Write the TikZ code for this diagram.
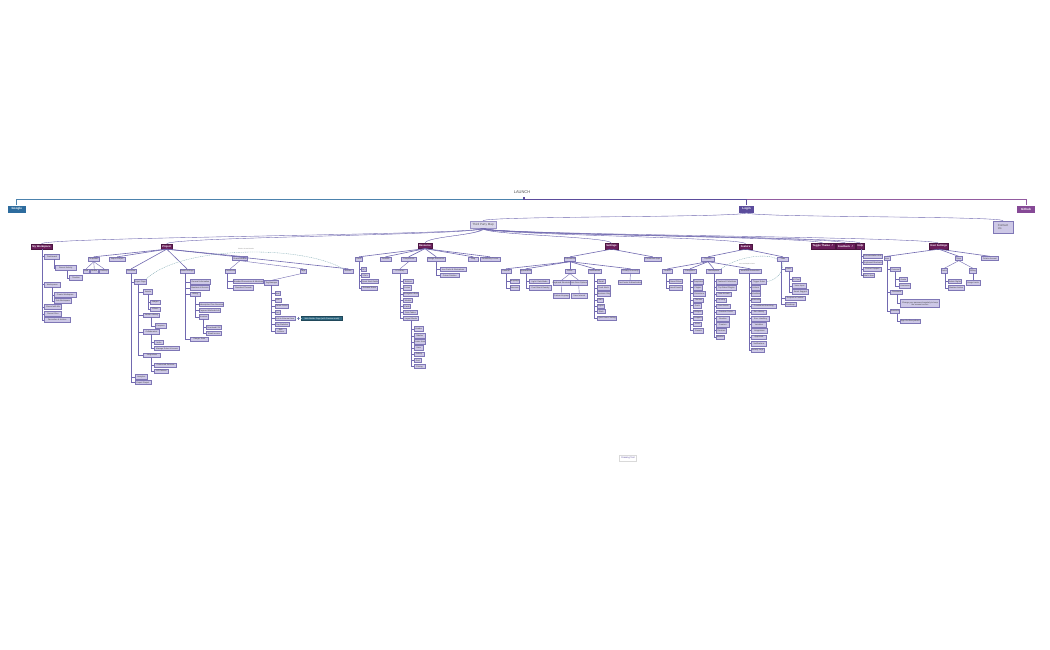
\documentclass[tikz,border=0pt]{standalone}
\usepackage{fontspec}
\setmainfont{Liberation Sans}
\newfontfamily\symf{DejaVu Sans}
\usetikzlibrary{calc}
\definecolor{leaffill}{HTML}{CDC8E6}
\definecolor{leafdraw}{HTML}{7F77B6}
\definecolor{catfill}{HTML}{6B1E5B}
\definecolor{edgec}{HTML}{7169B0}
\definecolor{gblue}{HTML}{2D6C9E}
\definecolor{lpurple}{HTML}{5B4C9C}
\definecolor{ghpurple}{HTML}{864996}
\definecolor{tealbox}{HTML}{2E6780}
\definecolor{dashc}{HTML}{7FA9B3}
\definecolor{tpmfill}{HTML}{D9D6EA}
\tikzset{
  leaf/.style={draw=leafdraw,fill=leaffill,line width=0.35pt,inner sep=0pt,align=center,
    font=\fontsize{2}{2.3}\selectfont,text=black!75},
  cat/.style={draw=catfill!70!black,fill=catfill,line width=0.3pt,inner sep=0pt,text=white,
    font=\fontsize{2.6}{3}\selectfont\bfseries},
  topbtn/.style={inner sep=0pt,text=white,font=\fontsize{3}{3.5}\selectfont\bfseries},
  tl/.style={draw=edgec,line width=0.4pt},
  fl/.style={draw=edgec,line width=0.6pt},
  dl/.style={draw=dashc,line width=0.35pt,dash pattern=on 1pt off 0.8pt},
  tap/.style={fill=edgec,fill opacity=0.6,draw=none},
}
\newcommand\bxx[7][leaf]{%
  \pgfmathsetmacro\bxw{#5-#3}%
  \pgfmathsetmacro\bxh{#6-#4}%
  \pgfmathsetmacro\bxcx{(#3+#5)/2}%
  \pgfmathsetmacro\bxcy{(#4+#6)/2}%
  \node[#1,minimum width=\bxw pt,minimum height=\bxh pt] (#2) at (\bxcx,\bxcy) {#7};%
}
\newcommand\vlist[3]{\foreach \ch in {#3}{\draw[tl] ([xshift=#2pt]#1.south west) |- (\ch.west);}}
\newcommand\fan[2]{\foreach \ch in {#2}{\draw[tl] (#1.south) -- (\ch.north);}}
\newcommand\catfan[2]{\foreach \ch in {#2}{\draw[fl] (#1.south) -- (\ch.north);}}
\newcommand\taper[4]{% from, to, halfwidth, bend
  \fill[tap] ($(#1)+(-#3,0)$) .. controls ($(#1)+(-#3,#4)$) and ($(#2)+(0,-#4)$) .. (#2)
     .. controls ($(#2)+(0,-#4)$) and ($(#1)+(#3,#4)$) .. ($(#1)+(#3,0)$) -- cycle;
  \draw[edgec,line width=0.35pt] (#1) .. controls ($(#1)+(0,#4)$) and ($(#2)+(0,-#4)$) .. (#2);
}
\begin{document}
\begin{tikzpicture}[x=1pt,y=-1pt]
\fill[white] (0,0) rectangle (1050,650);
\useasboundingbox (0,0) rectangle (1050,650);

% ---------- top ----------
\node[font=\fontsize{4}{5}\selectfont,text=black!70,inner sep=0pt] (launch) at (522,192.5) {LAUNCH};
\coordinate (hub) at (524,199.3);
\bxx[topbtn,fill=gblue]{google}{8}{205.5}{25.5}{212.5}{Google}
\bxx[topbtn,fill=lpurple]{login}{739}{205.5}{754}{212.5}{Login}
\bxx[topbtn,fill=ghpurple]{github}{1017}{205.5}{1035}{212.5}{Github}
\draw[gblue!85,line width=1pt] (hub) -| (google.north);
\draw[ghpurple!90,line width=1pt] (hub) -| (github.north);
\draw[lpurple,line width=1pt] (hub) -| (login.north);
\fill[lpurple] (522.8,197.3) rectangle (525.2,200.3);

\bxx[leaf,fill=tpmfill,draw=leafdraw!80,font=\fontsize{3}{3.5}\selectfont,text=black!65]{tpm}{470}{221}{496}{228}{Third Party Map}
\bxx[leaf,align=left,font=\fontsize{3}{3.6}\selectfont,text=black!65]{contact}{993}{221}{1013}{233}{Contact\\Us\phantom{tact}}
\taper{login.south}{tpm.north}{1.2}{5}
\taper{login.south}{contact.north}{1.2}{5}

% ---------- categories ----------
\bxx[cat]{mw}{31}{244}{52}{249}{My Workspace}
\bxx[cat]{pj}{161}{244}{172.5}{249}{Project}
\bxx[cat]{rs}{418}{243.5}{432}{248.5}{Resource}
\bxx[cat]{st}{605}{243.5}{618}{249}{Settings}
\bxx[cat]{ft}{739}{244}{752}{249}{Feature}
\bxx[cat]{tt}{811}{243.5}{835}{249}{Toggle Theme\hspace{1.5pt}{\symf\fontsize{2.4}{3}\selectfont ↗}}
\bxx[cat]{fb}{836.5}{243.5}{855}{249}{Feedback\hspace{1.5pt}{\symf\fontsize{2.4}{3}\selectfont ↗}}
\bxx[cat]{hp}{856.5}{243.5}{864.5}{249}{Help}
\bxx[cat]{us}{929}{243.5}{948.5}{249}{User Settings}
\foreach \cc in {mw,pj,rs,st,ft,tt,fb,hp,us}{\taper{tpm.south}{\cc.north}{1.7}{7}}

% ---------- My Workspace ----------
\bxx{mw1}{44.5}{254}{59.5}{259}{Dashboard}
\bxx{mw1a}{55.5}{265.5}{76}{270.5}{Recent Activity}
\bxx{mw1a1}{69.5}{275.5}{82.5}{280.5}{Timeline}
\bxx{mw2}{44.5}{282}{60}{287}{Workspaces}
\bxx{mw2a}{54.5}{292.5}{76}{297.5}{Create Workspace}
\bxx{mw2b}{54.5}{298.5}{71.5}{303}{Join Workspace}
\bxx{mw3}{44.5}{304.5}{61.5}{309.5}{Shared with Me}
\bxx{mw4}{44.5}{311.5}{61.5}{316}{Recent Files}
\bxx{mw5}{44.5}{317.5}{70}{322}{Favourites \& Archive}
\vlist{mw}{11}{mw1,mw2,mw3,mw4,mw5}
\vlist{mw1}{9.5}{mw1a}
\vlist{mw1a}{11.5}{mw1a1}
\vlist{mw2}{8}{mw2a,mw2b}

% ---------- Project ----------
\bxx{pA}{88.5}{257}{99}{261.5}{Templates}
\bxx{pA1}{83.5}{269}{89}{273}{Web}
\bxx{pA2}{90}{269}{98.5}{273}{Mobile}
\bxx{pA3}{99.5}{269}{108.5}{273}{Desktop}
\bxx{pB}{109.5}{257}{125}{261.5}{Import Project}
\bxx{pC}{126}{269}{136.5}{273}{Overview}
\bxx{pC1}{134.5}{279.5}{145.5}{284}{Project Page}
\bxx{pC1a}{143.5}{289.5}{152.5}{294}{Assets}
\bxx{pC1a1}{150.5}{300}{160}{304.5}{Images}
\bxx{pC1a2}{150.5}{307}{160}{311.5}{Videos}
\bxx{pC1b}{143.5}{313}{159.5}{317}{Version History}
\bxx{pC1b1}{155}{323.5}{166}{328}{Compare}
\bxx{pC1c}{143.5}{329.5}{159.5}{334}{Collaborators}
\bxx{pC1c1}{154.5}{340.5}{163.5}{344.5}{Invite}
\bxx{pC1c2}{154.5}{346.5}{179.5}{350.5}{Manage Roles \& Access}
\bxx{pC1d}{143.5}{353}{160.5}{357.5}{Integrations}
\bxx{pC1d1}{154.5}{363}{176.5}{367.5}{Connected Services}
\bxx{pC1d2}{154.5}{369}{168.5}{373.5}{API Tokens}
\bxx{pC2}{135}{374.5}{147.5}{379}{Analytics}
\bxx{pC3}{135}{380.5}{151}{384.5}{Export Project}
\bxx{pE}{180}{269}{194}{273}{Board Settings}
\bxx{pE1}{190.5}{279.5}{210.5}{284}{General Information}
\bxx{pE2}{190.5}{285.5}{209.5}{290}{Members \& Access}
\bxx{pE3}{190.5}{292}{200}{296.5}{Billing}
\bxx{pE3a}{199}{302.5}{223.5}{306.5}{Subscription Plan Overview}
\bxx{pE3b}{199}{308.5}{220.5}{312.5}{Payment Methods Info}
\bxx{pE3c}{199}{314.5}{208.5}{319}{Invoices}
\bxx{pE3c1}{206.5}{325.5}{221.5}{329.5}{Download PDF}
\bxx{pE3c2}{206.5}{331.5}{221.5}{335.5}{Email Invoice}
\bxx{pE4}{190.5}{337}{208.5}{341.5}{Danger Zone}
\bxx{pD}{232.5}{256.5}{247.5}{260.5}{Shared Boards}
\bxx{pF}{225}{269}{235.5}{273}{Comments}
\bxx{pF1}{233.5}{279.5}{262.5}{283.5}{Threaded Discussions \& Mentions}
\bxx{pF2}{233.5}{285.5}{253.5}{290}{Resolved Threads}
\bxx{pG}{300}{269}{306.5}{273}{Tags}
\bxx{pG1}{264.5}{280.5}{278.5}{285}{Tag Manager}
\bxx{pG1a}{275}{291.5}{280}{295.5}{New}
\bxx{pG1b}{275}{298}{281}{302}{Edit}
\bxx{pG1c}{275}{304}{288.5}{308}{Colour Picker}
\bxx{pG1d}{275}{310.5}{280}{314.5}{Sort}
\bxx{pG1e}{275}{316.5}{295}{320.5}{Link to External Item}
\bxx{pG1f}{275}{322.5}{289.5}{326.5}{Tag Statistics}
\bxx{pG1g}{275}{328}{286.5}{333.5}{Bulk\\Actions}
\bxx[leaf,fill=tealbox,draw=tealbox!70!black,text=white]{teal}{301.5}{316.5}{342.5}{320.5}{Web Builder Page (with Preview mode)}
\bxx{pH}{343.5}{269}{353}{273}{Archive}
\catfan{pj}{pA,pB,pC,pE,pD,pH}
\fan{pA}{pA1,pA2,pA3}
\vlist{pC}{5.5}{pC1,pC2,pC3}
\vlist{pC1}{4.5}{pC1a,pC1b,pC1c,pC1d}
\vlist{pC1a}{5}{pC1a1,pC1a2}
\vlist{pC1b}{8}{pC1b1}
\vlist{pC1c}{8}{pC1c1,pC1c2}
\vlist{pC1d}{8}{pC1d1,pC1d2}
\vlist{pE}{5.5}{pE1,pE2,pE3,pE4}
\vlist{pE3}{4.5}{pE3a,pE3b,pE3c}
\vlist{pE3c}{4.5}{pE3c1,pE3c2}
\fan{pD}{pF,pG}
\vlist{pF}{2.5}{pF1,pF2}
\fan{pG}{pG1}
\vlist{pG1}{7}{pG1a,pG1b,pG1c,pG1d,pG1e,pG1f,pG1g}
\draw[dl] (pG1e.east) -- (teal.west);
\draw[edgec,line width=0.3pt] (298.3,316.8) -- (298.3,320.2);
\draw[dl] (pC1.north east) .. controls (180,246) and (300,244) .. (pH.north west);
\node[font=\fontsize{1.5}{1.8}\selectfont,text=black!50,inner sep=0pt] (pjlbl) at (246,249.3) {linked to shared boards};

% ---------- Resource ----------
\bxx{R1}{355.5}{257}{362.5}{261.5}{Docs}
\bxx{R1a}{361.5}{267.5}{366.5}{271.5}{API}
\bxx{R1b}{361.5}{273.5}{369}{277.5}{SDKs}
\bxx{R1c}{361.5}{279.5}{378.5}{283.5}{Quick Start Guide}
\bxx{R1d}{361.5}{286}{377.5}{290.5}{Release Notes}
\bxx{R2}{380}{257}{391}{261.5}{Tutorials}
\bxx{R3}{401.5}{257}{416}{261.5}{Components}
\bxx{R3a}{392.5}{269}{407.5}{273.5}{UI Library}
\bxx{R3a1}{403.5}{279.5}{413.5}{283.5}{Buttons}
\bxx{R3a2}{403.5}{285.5}{411}{290}{Forms}
\bxx{R3a3}{403.5}{292}{418.5}{296.5}{Navigation Bars}
\bxx{R3a4}{403.5}{298.5}{412.5}{302.5}{Modals}
\bxx{R3a5}{403.5}{304.5}{410.5}{308.5}{Cards}
\bxx{R3a6}{403.5}{310.5}{417.5}{314.5}{Data Tables}
\bxx{R3a7}{403.5}{316.5}{418.5}{320.5}{Layout Blocks}
\bxx{R3a7a}{414}{326.5}{423.5}{331}{Header}
\bxx{R3a7b}{414}{333.5}{425.5}{338}{Sidebar}
\bxx{R3a7c}{414}{339.5}{425.5}{344}{Footer Area}
\bxx{R3a7d}{414}{345.5}{423.5}{350}{Hero}
\bxx{R3a7e}{414}{352}{424}{356.5}{Gallery}
\bxx{R3a7f}{414}{358.5}{421.5}{362.5}{Grid}
\bxx{R3a7g}{414}{364.5}{425}{368.5}{Pricing}
\bxx{R4}{427.5}{257}{445}{261.5}{Design Resources}
\bxx{R4a}{440}{267.5}{466}{271.5}{Icon Packs \& Illustrations}
\bxx{R4b}{440}{273.5}{459.5}{277.5}{Colour Palettes}
\bxx{R5}{468.5}{257}{478}{261.5}{Blog}
\bxx{R6}{480}{257}{500}{261.5}{Community Forum}
\catfan{rs}{R1,R2,R3,R4,R5,R6}
\vlist{R1}{3.5}{R1a,R1b,R1c,R1d}
\fan{R3}{R3a}
\vlist{R3a}{8}{R3a1,R3a2,R3a3,R3a4,R3a5,R3a6,R3a7}
\vlist{R3a7}{7.5}{R3a7a,R3a7b,R3a7c,R3a7d,R3a7e,R3a7f,R3a7g}
\vlist{R4}{9}{R4a,R4b}

% ---------- Settings ----------
\bxx{S1}{564.5}{257}{575.5}{261.5}{Preferences}
\bxx{S1a}{501}{269}{511}{273.5}{General}
\bxx{S1a1}{510}{279.5}{519}{283.5}{Language}
\bxx{S1a2}{510}{285.5}{519}{290}{Timezone}
\bxx{S1b}{520}{269}{531.5}{273.5}{Appearance}
\bxx{S1b1}{529.5}{279.5}{549.5}{283.5}{Light / Dark Mode}
\bxx{S1b2}{529.5}{285.5}{551.5}{290}{Font Size \& Density}
\bxx{S1c}{565}{269}{575}{273.5}{Editor}
\bxx{S1c1}{553.5}{280.5}{569.5}{285.5}{Keyboard Shortcuts}
\bxx{S1c2}{571}{280.5}{586.5}{285.5}{Auto Save Options}
\bxx{S1c1a}{553.5}{293.5}{569}{298}{Custom Keymap}
\bxx{S1c2a}{571.5}{293.5}{587}{298}{Save Interval}
\bxx{S1d}{588.5}{269}{601}{273.5}{Notifications}
\bxx{S1d1}{597.5}{279.5}{605}{283.5}{Email}
\bxx{S1d2}{597.5}{285.5}{610}{290}{Push Alerts}
\bxx{S1d3}{597.5}{291.5}{610.5}{296}{Mentions Only}
\bxx{S1d4}{597.5}{298}{603.5}{302}{SMS}
\bxx{S1d5}{597.5}{304}{604}{308}{Digest}
\bxx{S1d6}{597.5}{309.5}{605}{313.5}{Slack}
\bxx{S1d7}{597.5}{316}{616.5}{320.5}{Quiet Hours Setting}
\bxx{S1e}{621.5}{269}{639.5}{273.5}{Privacy \& Security}
\bxx{S1e1}{618.5}{280.5}{641.5}{284.5}{Two-Factor Authentication}
\bxx{S2}{644.5}{257}{661}{261.5}{Connected Apps}
\catfan{st}{S1,S2}
\catfan{S1}{S1a,S1b,S1c,S1d,S1e}
\vlist{S1a}{5.5}{S1a1,S1a2}
\vlist{S1b}{6}{S1b1,S1b2}
\fan{S1c}{S1c1,S1c2}
\fan{S1c1}{S1c1a}
\fan{S1c2}{S1c2a}
\vlist{S1d}{6}{S1d1,S1d2,S1d3,S1d4,S1d5,S1d6,S1d7}
\fan{S1e}{S1e1}

% ---------- Feature ----------
\bxx{F1}{701.5}{257}{714.5}{261.5}{Explore}
\bxx{F1a}{662.5}{269}{672.5}{273.5}{Search}
\bxx{F1a1}{669.5}{279.5}{682.5}{283.5}{Smart Filters}
\bxx{F1a2}{669.5}{285.5}{681.5}{290}{Saved Search}
\bxx{F1b}{683.5}{269}{696.5}{273.5}{Categories}
\foreach \i/\xb/\ya/\t in {1/703.5/279.5/Templates,2/702.5/285.5/Plugins,3/705.5/291.5/Extensions,4/703.5/298/Themes,5/701/303.5/Fonts,6/702.5/310/Widgets,7/702.5/316/Snippets,8/701.5/322/Icons,9/703.5/328.5/Presets}{\bxx{F1b\i}{693.5}{\ya}{\xb}{\ya+4.3}{\t}}
\bxx{F1c}{706.5}{269}{721}{273.5}{Marketplace}
\foreach \i/\xb/\ya/\t in {1/737.5/279.5/Featured Collections,2/736.5/285.5/Top Rated Plugins,3/731.5/292/New Arrivals,4/726/298/Trending,5/730/304/Free Assets,6/735/310/Premium Packs,7/729.5/316.5/Bundles,8/729/322.5/Creators,9/726.5/328.5/Reviews,10/724/335/Wishlist}{\bxx{F1c\i}{716.5}{\ya}{\xb}{\ya+4.3}{\t}}
\bxx{F1d}{739.5}{269}{761}{273.5}{Workflow Automation}
\foreach \i/\xb/\ya/\t in {1/766.5/279.5/Trigger Rules,2/760/285.5/Actions,3/760/291.5/Schedules,4/759.5/298/Webhooks,5/776/304/Conditional Branching,6/766.5/310/Run History,7/769.5/316.5/Error Handling,8/766.5/322.5/Variables,9/767.5/328.5/Integrations,10/766.5/335/Approvals,11/766.5/341.5/Notifications,12/764/348/Activity Logs}{\bxx{F1d\i}{751.5}{\ya}{\xb}{\ya+4.3}{\t}}
\bxx{F2}{777.5}{257}{788.5}{261.5}{Labs}
\bxx{F2a}{785}{267}{792.5}{271.5}{Beta}
\bxx{F2a1}{792.5}{277.5}{800}{281.5}{AI Chat}
\bxx{F2a2}{792.5}{283.5}{806.5}{288}{Voice Input}
\bxx{F2a3}{792.5}{289.5}{808.5}{294}{Smart Suggest}
\bxx{F2b}{785}{296.5}{805.5}{300.5}{Request a Feature}
\bxx{F2c}{785}{302.5}{796}{306.5}{Roadmap}
\catfan{ft}{F1,F2}
\catfan{F1}{F1a,F1b,F1c,F1d}
\vlist{F1a}{4}{F1a1,F1a2}
\vlist{F1b}{7}{F1b1,F1b2,F1b3,F1b4,F1b5,F1b6,F1b7,F1b8,F1b9}
\vlist{F1c}{7.5}{F1c1,F1c2,F1c3,F1c4,F1c5,F1c6,F1c7,F1c8,F1c9,F1c10}
\vlist{F1d}{10}{F1d1,F1d2,F1d3,F1d4,F1d5,F1d6,F1d7,F1d8,F1d9,F1d10,F1d11,F1d12}
\vlist{F2}{4}{F2a,F2b,F2c}
\vlist{F2a}{4.5}{F2a1,F2a2,F2a3}
\draw[dl] (F1c.north east) .. controls (735,258) and (765,252) .. (F2.west);
\draw[dl] (F2.south) .. controls (783,275) and (775,280) .. (F1d1.east);
\node[font=\fontsize{1.5}{1.8}\selectfont,text=black!50,inner sep=0pt] (ftlbl) at (747,264.5) {uses marketplace items};

% ---------- Help ----------
\bxx{hp1}{863.5}{254}{882}{258.5}{Documentation Hub}
\bxx{hp2}{863.5}{260.5}{882.5}{264.5}{Keyboard Shortcuts}
\bxx{hp3}{863.5}{267.5}{881}{271.5}{Contact Support}
\bxx{hp4}{863.5}{273.5}{873.5}{277.5}{What's New}
\vlist{hp}{4.5}{hp1,hp2,hp3,hp4}

% ---------- User Settings ----------
\bxx{U1}{884}{256.5}{890}{260.5}{User}
\bxx{U1a}{890.5}{267.5}{900.5}{271.5}{Personal}
\bxx{U1a1}{899.5}{277.5}{907.5}{281.5}{Avatar}
\bxx{U1a2}{899.5}{283.5}{910.5}{288}{Username}
\bxx{U1b}{890.5}{290}{902.5}{294}{Password}
\bxx{U1b1}{900.5}{299.5}{939.5}{307.5}{Change your password regularly to keep\\the account secure}
\bxx{U1c}{890.5}{309}{899.5}{313.5}{Sessions}
\bxx{U1c1}{900.5}{319}{920}{323.5}{Sign Out Everywhere}
\bxx{U2}{955}{256.5}{962.5}{260.5}{Team}
\bxx{U2a}{941}{268.5}{947.5}{273}{Roles}
\bxx{U2a1}{948.5}{279.5}{961.5}{283.5}{Admin Rights}
\bxx{U2a2}{948.5}{285.5}{964}{290}{Member Invites}
\bxx{U2b}{969.5}{268.5}{976.5}{273}{Billing}
\bxx{U2b1}{966}{280.5}{980}{285}{Usage Limits}
\bxx{U3}{981.5}{256.5}{998.5}{260.5}{Delete Account}
\catfan{us}{U1,U2,U3}
\vlist{U1}{3.5}{U1a,U1b,U1c}
\vlist{U1a}{5}{U1a1,U1a2}
\vlist{U1b}{7}{U1b1}
\vlist{U1c}{7}{U1c1}
\fan{U2}{U2a,U2b}
\vlist{U2a}{4}{U2a1,U2a2}
\fan{U2b}{U2b1}

% ---------- bottom label ----------
\bxx[leaf,fill=white,draw=black!15,text=lpurple,font=\fontsize{2.3}{2.8}\selectfont]{start}{619.5}{455}{636.5}{461}{Drawing Tool}
\end{tikzpicture}
\end{document}
